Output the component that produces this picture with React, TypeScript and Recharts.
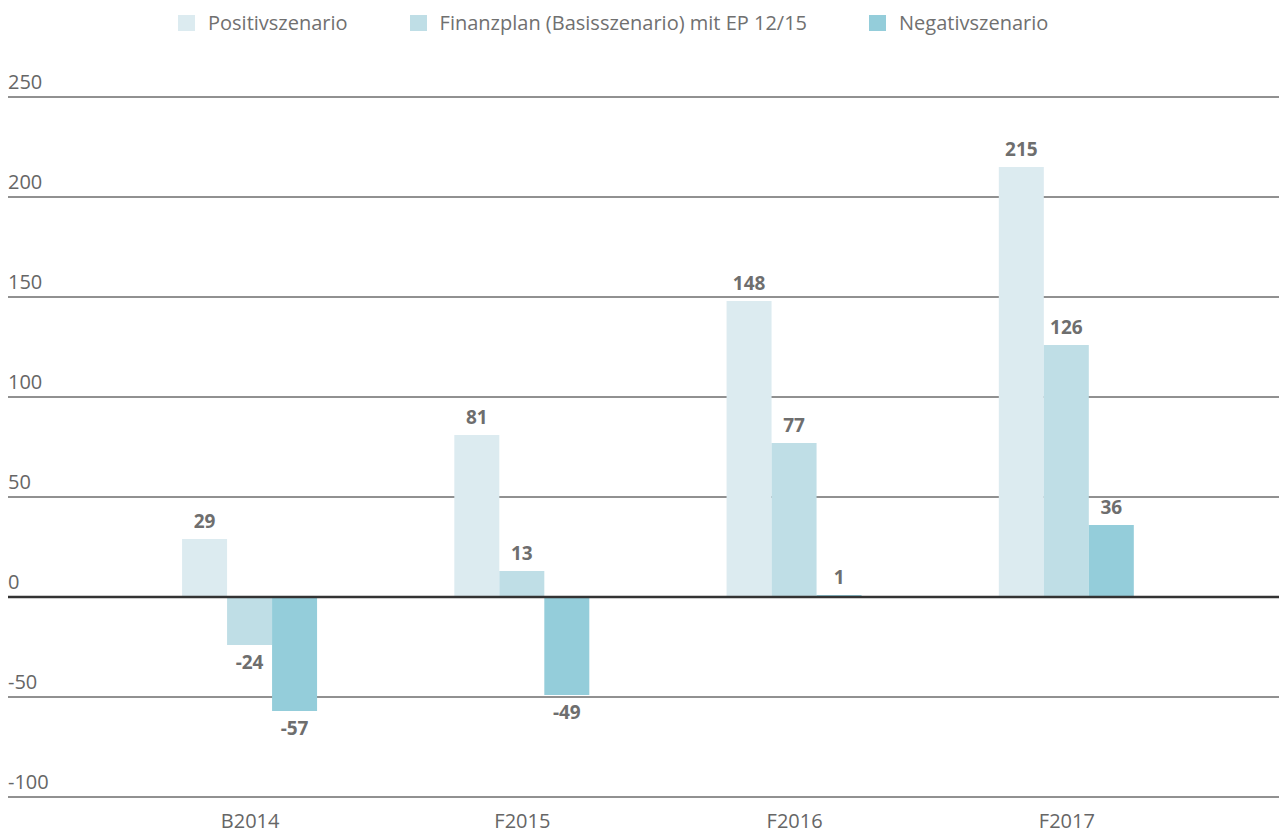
import { BarChart, Bar, XAxis, YAxis, CartesianGrid, ReferenceLine, Legend, LabelList } from 'recharts';

const categories = ['B2014', 'F2015', 'F2016', 'F2017'];
const positiv = [29, 81, 148, 215];
const basis = [-24, 13, 77, 126];
const negativ = [-57, -49, 1, 36];
const yTicks = [-100, -50, 0, 50, 100, 150, 200, 250];

const series = [
  { key: 'positiv', name: 'Positivszenario', color: '#dcebf0' },
  { key: 'basis', name: 'Finanzplan (Basisszenario) mit EP 12/15', color: '#bfdee6' },
  { key: 'negativ', name: 'Negativszenario', color: '#94cdda' },
];

const data = categories.map((c, i) => ({
  name: c,
  positiv: positiv[i],
  basis: basis[i],
  negativ: negativ[i],
}));

const FONT = '"Open Sans", sans-serif';

function ValueLabel(props: any) {
  const { x, y, width, height, value } = props;
  const top = Math.min(y, y + height);
  const bottom = Math.max(y, y + height);
  const ty = value >= 0 ? top - 18 : bottom + 17;
  return (
    <text
      x={x + width / 2}
      y={ty}
      textAnchor="middle"
      dominantBaseline="central"
      fill="#6e6e6e"
      fontWeight={700}
      fontSize={19}
      fontFamily={FONT}
    >
      {value}
    </text>
  );
}

function YTick(props: any) {
  const { y, payload } = props;
  return (
    <text x={8} y={y - 8} textAnchor="start" fill="#666" fontSize={20} fontFamily={FONT}>
      {payload.value}
    </text>
  );
}

function XTick(props: any) {
  const { x, y, payload } = props;
  return (
    <text x={x} y={y + 15} textAnchor="middle" dominantBaseline="central" fill="#666" fontSize={20} fontFamily={FONT}>
      {payload.value}
    </text>
  );
}

function LegendContent() {
  return (
    <div style={{ height: 97, display: 'flex', alignItems: 'flex-start', paddingLeft: 171, paddingTop: 9, boxSizing: 'border-box', fontFamily: FONT }}>
      {series.map((s) => (
        <div key={s.key} style={{ display: 'flex', alignItems: 'center', marginRight: 62 }}>
          <span style={{ width: 17, height: 16, background: s.color, display: 'inline-block', marginRight: 13 }} />
          <span style={{ fontSize: 20, color: '#707070' }}>{s.name}</span>
        </div>
      ))}
    </div>
  );
}

export default function App() {
  return (
    <div>
      <style>{'body{margin:0}'}</style>
      <BarChart
        width={1279}
        height={833}
        data={data}
        margin={{ top: 0, right: 0, bottom: 0, left: 7 }}
        barCategoryGap="25%"
        barGap={0}
      >
        <Legend verticalAlign="top" align="left" content={<LegendContent />} />
        <CartesianGrid vertical={false} stroke="#222" strokeWidth={1} />
        <XAxis
          dataKey="name"
          axisLine={false}
          tickLine={false}
          height={36}
          padding={{ left: 106, right: 76 }}
          tick={<XTick />}
        />
        <YAxis
          width={1}
          domain={[-100, 250]}
          ticks={yTicks}
          axisLine={false}
          tickLine={false}
          tick={<YTick />}
        />
        {series.map((s) => (
          <Bar key={s.key} dataKey={s.key} name={s.name} fill={s.color} isAnimationActive={false}>
            <LabelList dataKey={s.key} content={<ValueLabel />} />
          </Bar>
        ))}
        <ReferenceLine y={0} stroke="#333" strokeWidth={2.5} />
      </BarChart>
    </div>
  );
}
